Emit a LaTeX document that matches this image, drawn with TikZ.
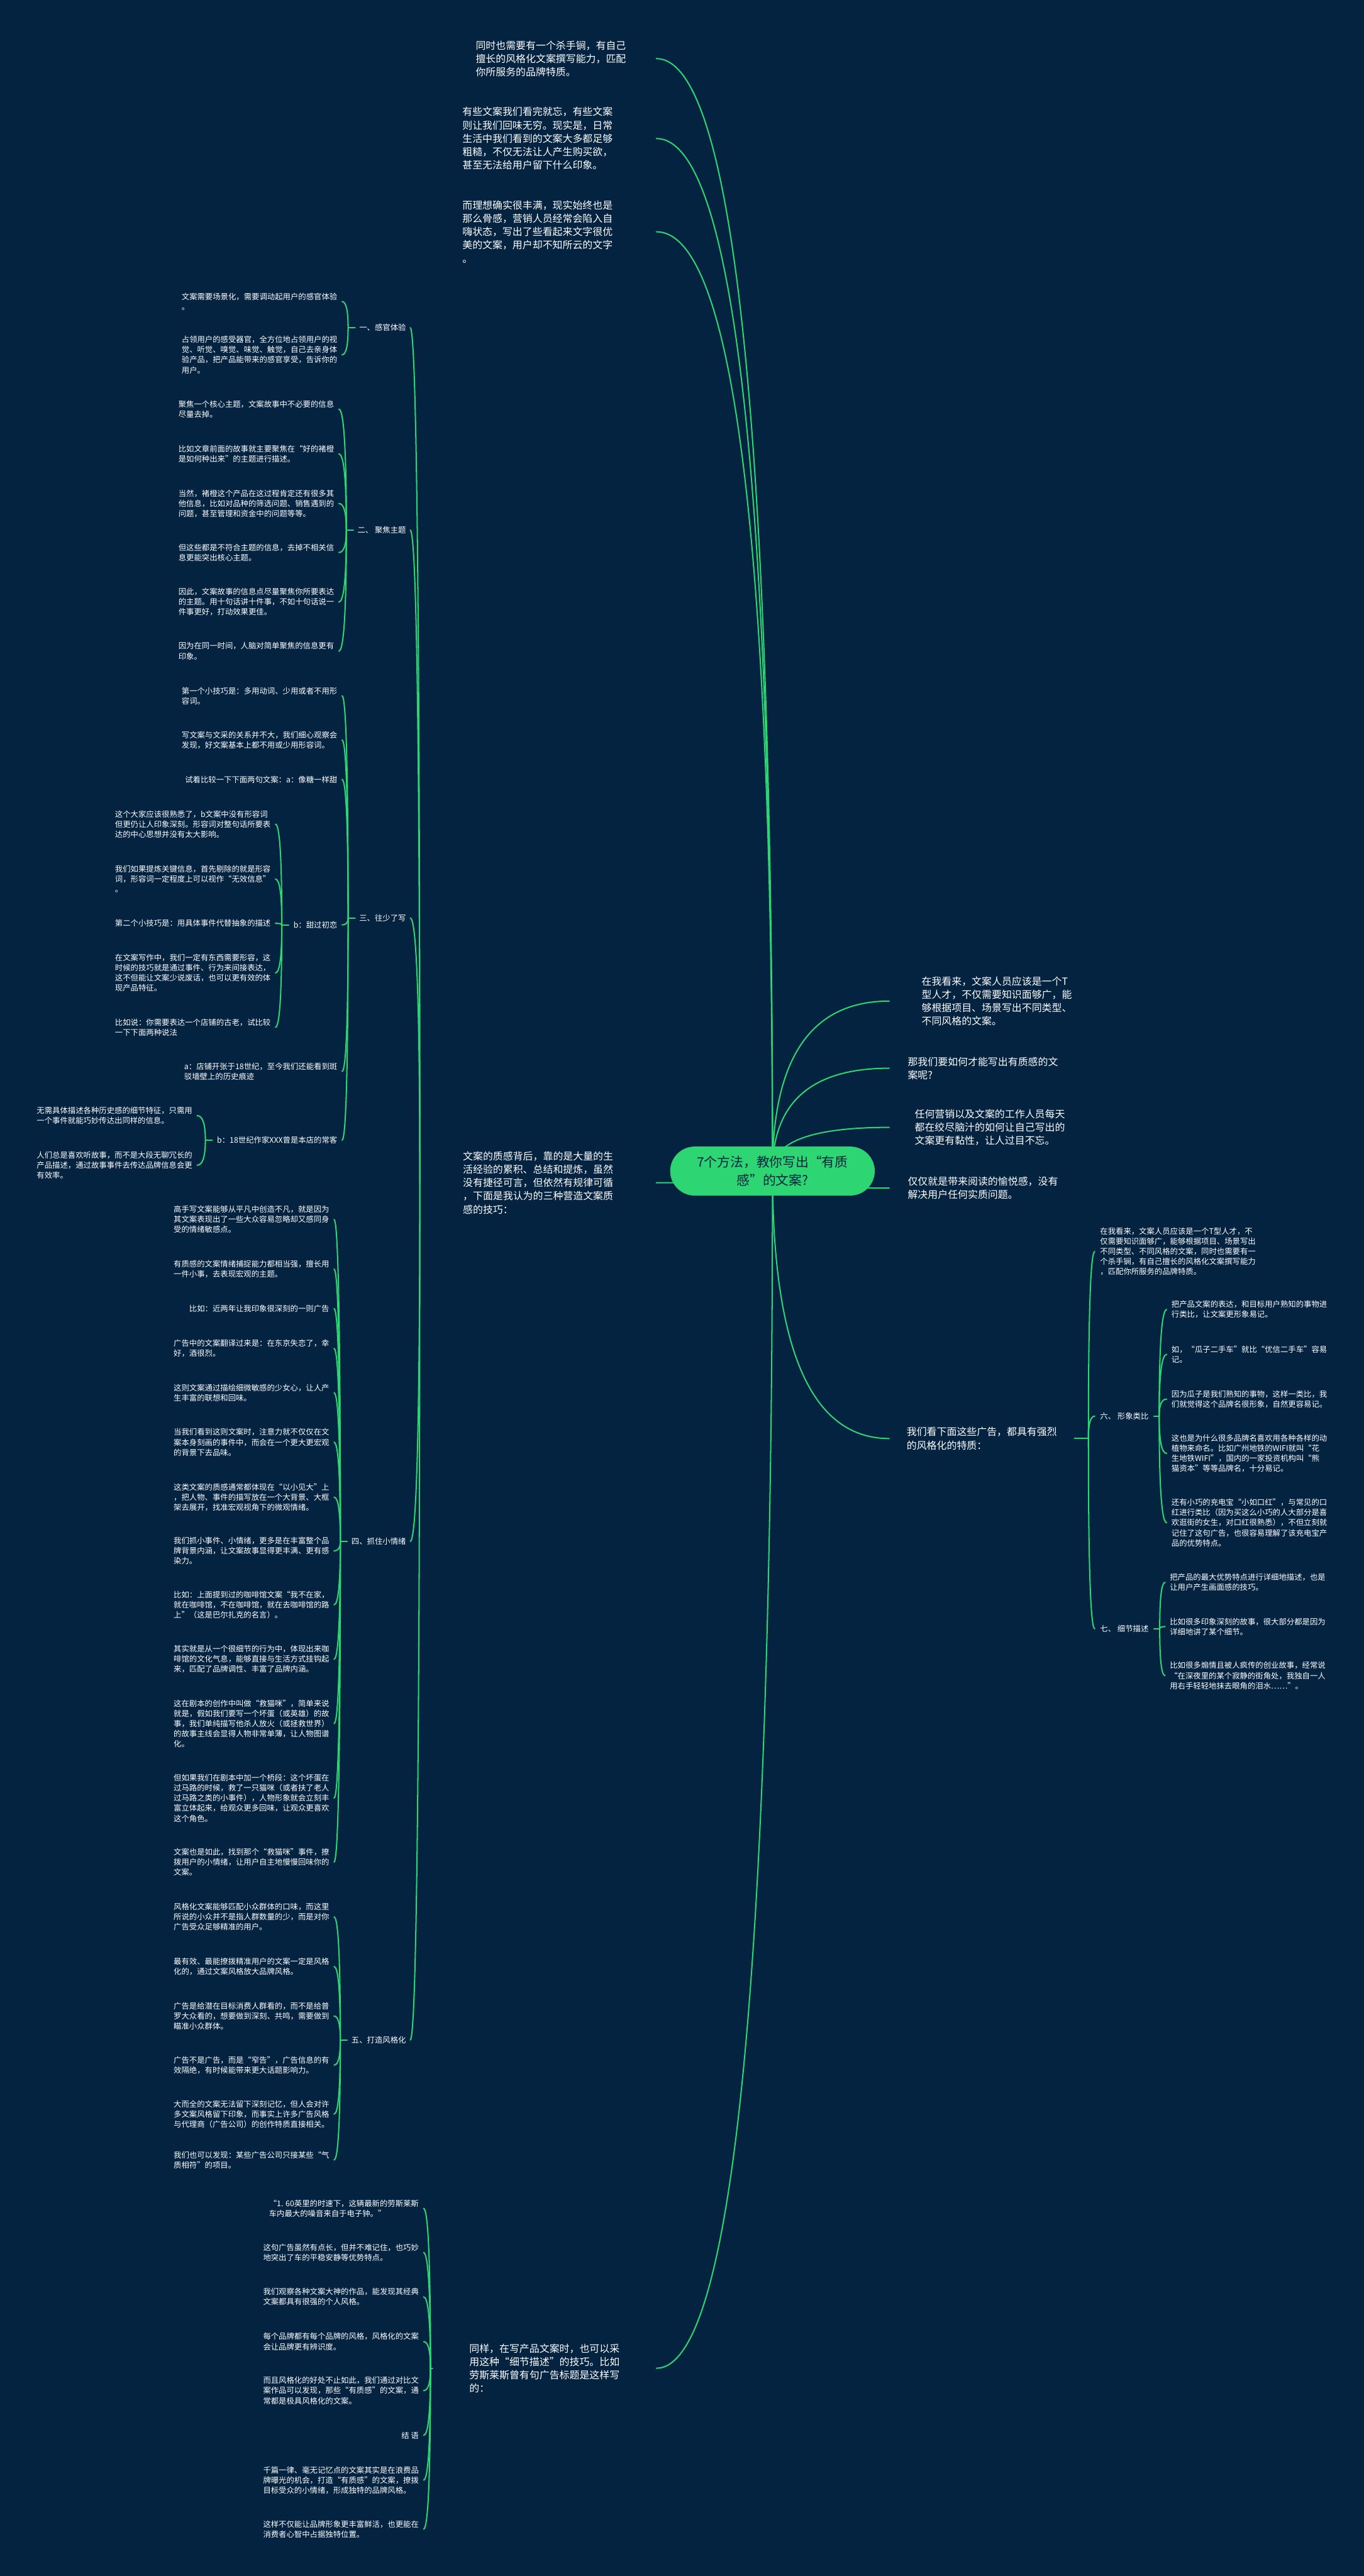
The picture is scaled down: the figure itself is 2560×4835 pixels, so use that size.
\documentclass[tikz,border=0pt]{standalone}
\usepackage{fontspec}
\setmainfont{Noto Sans CJK SC}
\usetikzlibrary{calc}
\definecolor{bgnavy}{RGB}{3,35,64}
\definecolor{lgreen}{RGB}{46,213,115}
\definecolor{roottext}{RGB}{3,35,64}
\pgfdeclarelayer{bg}
\pgfsetlayers{bg,main}
\tikzset{
  mfont/.style={font={\fontsize{18.8}{25}\selectfont}},
  sfont/.style={font={\fontsize{14.6}{19}\selectfont}},
  mainL/.style={mfont, anchor=east, align=left, text=white, inner ysep=2pt, outer sep=0pt},
  mainR/.style={mfont, anchor=west, align=left, text=white, inner ysep=2pt, outer sep=0pt},
  subL/.style={sfont, anchor=east, align=left, text=white, inner xsep=9pt, inner ysep=2pt, outer sep=0pt},
  subR/.style={sfont, anchor=west, align=left, text=white, inner xsep=9pt, inner ysep=2pt, outer sep=0pt},
  secL/.style={sfont, anchor=east, align=left, text=white, inner xsep=8pt, inner ysep=2pt, outer sep=0pt},
  secR/.style={sfont, anchor=west, align=left, text=white, inner xsep=10pt, inner ysep=2pt, outer sep=0pt},
  rootnode/.style={font={\fontsize{24.5}{35}\selectfont}, align=center, text=roottext, fill=lgreen,
    rounded corners=46pt, minimum width=384pt, minimum height=92pt, inner sep=0pt},
  conn/.style={draw=lgreen, line width=2.4pt, line cap=round},
  qc/.style={to path={.. controls ($(\tikztostart)!0.6667!(\tikztostart|-\tikztotarget)$) and ($(\tikztotarget)!0.6667!(\tikztostart|-\tikztotarget)$) .. (\tikztotarget)}},
}
\begin{document}
\begin{tikzpicture}[x=1pt,y=-1pt]
\useasboundingbox (0,0) rectangle (2560,4835);

% root
\node[rootnode] (root) at (1450,2198) {7个方法，教你写出“有质\\感”的文案?};

% main left
\node[mainL, inner xsep=57pt] (l1) at (1232,110) {同时也需要有一个杀手锏，有自己\\擅长的风格化文案撰写能力，匹配\\你所服务的品牌特质。};
\node[mainL, inner xsep=82pt] (l2) at (1232,260) {有些文案我们看完就忘，有些文案\\则让我们回味无穷。现实是，日常\\生活中我们看到的文案大多都足够\\粗糙，不仅无法让人产生购买欲，\\甚至无法给用户留下什么印象。};
\node[mainL, inner xsep=82pt] (l3) at (1232,435) {而理想确实很丰满，现实始终也是\\那么骨感，营销人员经常会陷入自\\嗨状态，写出了些看起来文字很优\\美的文案，用户却不知所云的文字\\。};
\node[mainL, inner xsep=81pt] (l4) at (1232,2220) {文案的质感背后，靠的是大量的生\\活经验的累积、总结和提炼，虽然\\没有捷径可言，但依然有规律可循\\，下面是我认为的三种营造文案质\\感的技巧：};
\node[mainL, inner xsep=69pt] (l5) at (1232,4445) {同样，在写产品文案时，也可以采\\用这种“细节描述”的技巧。比如\\劳斯莱斯曾有句广告标题是这样写\\的：};

% main right
\node[mainR, inner xsep=61pt] (r1) at (1669,1879) {在我看来，文案人员应该是一个T\\型人才，不仅需要知识面够广，能\\够根据项目、场景写出不同类型、\\不同风格的文案。};
\node[mainR, inner xsep=35pt] (r2) at (1669,2005) {那我们要如何才能写出有质感的文\\案呢?};
\node[mainR, inner xsep=48pt] (r3) at (1669,2116) {任何营销以及文案的工作人员每天\\都在绞尽脑汁的如何让自己写出的\\文案更有黏性，让人过目不忘。};
\node[mainR, inner xsep=35pt] (r4) at (1669,2230) {仅仅就是带来阅读的愉悦感，没有\\解决用户任何实质问题。};
\node[mainR, inner xsep=33pt] (r5) at (1669,2700) {我们看下面这些广告，都具有强烈\\的风格化的特质：};

% sections
\node[secL] (s1) at (770,615) {一、感官体验};
\node[secL] (s2) at (770,995) {二、 聚焦主题};
\node[secL] (s3) at (770,1723) {三、往少了写};
\node[secL] (s4) at (770,2893) {四、抓住小情绪};
\node[secL] (s5) at (770,3829) {五、打造风格化};

% section 1 children
\node[subL] (a1) at (642,566) {文案需要场景化，需要调动起用户的感官体验\\。};
\node[subL] (a2) at (642,666) {占领用户的感受器官，全方位地占领用户的视\\觉、听觉、嗅觉、味觉、触觉，自己去亲身体\\验产品，把产品能带来的感官享受，告诉你的\\用户。};

% section 2 children
\node[subL] (b1) at (636,768) {聚焦一个核心主题，文案故事中不必要的信息\\尽量去掉。};
\node[subL] (b2) at (636,852) {比如文章前面的故事就主要聚焦在“好的褚橙\\是如何种出来”的主题进行描述。};
\node[subL] (b3) at (636,945) {当然，褚橙这个产品在这过程肯定还有很多其\\他信息，比如对品种的筛选问题、销售遇到的\\问题，甚至管理和资金中的问题等等。};
\node[subL] (b4) at (636,1037) {但这些都是不符合主题的信息，去掉不相关信\\息更能突出核心主题。};
\node[subL] (b5) at (636,1130) {因此，文案故事的信息点尽量聚焦你所要表达\\的主题。用十句话讲十件事，不如十句话说一\\件事更好，打动效果更佳。};
\node[subL] (b6) at (636,1222) {因为在同一时间，人脑对简单聚焦的信息更有\\印象。};

% section 3 children
\node[subL] (c1) at (642,1306) {第一个小技巧是：多用动词、少用或者不用形\\容词。};
\node[subL] (c2) at (642,1389) {写文案与文采的关系并不大，我们细心观察会\\发现，好文案基本上都不用或少用形容词。};
\node[subL] (c3) at (642,1463) {试着比较一下下面两句文案：a：像糖一样甜};
\node[subL] (c4) at (642,1736) {b：甜过初恋};
\node[subL] (c5) at (642,2011) {a：店铺开张于18世纪，至今我们还能看到斑\\驳墙壁上的历史痕迹};
\node[subL] (c6) at (642,2140) {b：18世纪作家XXX曾是本店的常客};

\node[subL] (c4a) at (517,1547) {这个大家应该很熟悉了，b文案中没有形容词\\但更仍让人印象深刻。形容词对整句话所要表\\达的中心思想并没有太大影响。};
\node[subL] (c4b) at (517,1650) {我们如果提炼关键信息，首先剔除的就是形容\\词，形容词一定程度上可以视作“无效信息”\\。};
\node[subL] (c4c) at (517,1733) {第二个小技巧是：用具体事件代替抽象的描述};
\node[subL] (c4d) at (517,1826) {在文案写作中，我们一定有东西需要形容，这\\时候的技巧就是通过事件、行为来间接表达，\\这不但能让文案少说废话，也可以更有效的体\\现产品特征。};
\node[subL] (c4e) at (517,1928) {比如说：你需要表达一个店铺的古老，试比较\\一下下面两种说法};

\node[subL] (c6a) at (370,2094) {无需具体描述各种历史感的细节特征，只需用\\一个事件就能巧妙传达出同样的信息。};
\node[subL] (c6b) at (370,2187) {人们总是喜欢听故事，而不是大段无聊冗长的\\产品描述，通过故事事件去传达品牌信息会更\\有效率。};

% section 4 children
\node[subL] (d1) at (627,2289) {高手写文案能够从平凡中创造不凡，就是因为\\其文案表现出了一些大众容易忽略却又感同身\\受的情绪敏感点。};
\node[subL] (d2) at (627,2382) {有质感的文案情绪捕捉能力都相当强，擅长用\\一件小事，去表现宏观的主题。};
\node[subL] (d3) at (627,2456) {比如：近两年让我印象很深刻的一则广告};
\node[subL] (d4) at (627,2531) {广告中的文案翻译过来是：在东京失恋了，幸\\好，酒很烈。};
\node[subL] (d5) at (627,2614) {这则文案通过描绘细微敏感的少女心，让人产\\生丰富的联想和回味。};
\node[subL] (d6) at (627,2707) {当我们看到这则文案时，注意力就不仅仅在文\\案本身刻画的事件中，而会在一个更大更宏观\\的背景下去品味。};
\node[subL] (d7) at (627,2810) {这类文案的质感通常都体现在“以小见大”上\\，把人物、事件的描写放在一个大背景、大框\\架去展开，找准宏观视角下的微观情绪。};
\node[subL] (d8) at (627,2911) {我们抓小事件、小情绪，更多是在丰富整个品\\牌背景内涵，让文案故事显得更丰满、更有感\\染力。};
\node[subL] (d9) at (627,3012) {比如：上面提到过的咖啡馆文案“我不在家，\\就在咖啡馆，不在咖啡馆，就在去咖啡馆的路\\上”（这是巴尔扎克的名言）。};
\node[subL] (d10) at (627,3114) {其实就是从一个很细节的行为中，体现出来咖\\啡馆的文化气息，能够直接与生活方式挂钩起\\来，匹配了品牌调性、丰富了品牌内涵。};
\node[subL] (d11) at (627,3235) {这在剧本的创作中叫做“救猫咪”，简单来说\\就是，假如我们要写一个坏蛋（或英雄）的故\\事，我们单纯描写他杀人放火（或拯救世界）\\的故事主线会显得人物非常单薄，让人物图谱\\化。};
\node[subL] (d12) at (627,3375) {但如果我们在剧本中加一个桥段：这个坏蛋在\\过马路的时候，救了一只猫咪（或者扶了老人\\过马路之类的小事件），人物形象就会立刻丰\\富立体起来，给观众更多回味，让观众更喜欢\\这个角色。};
\node[subL] (d13) at (627,3495) {文案也是如此，找到那个“救猫咪”事件，撩\\拨用户的小情绪，让用户自主地慢慢回味你的\\文案。};

% section 5 children
\node[subL] (e1) at (627,3598) {风格化文案能够匹配小众群体的口味，而这里\\所说的小众并不是指人群数量的少，而是对你\\广告受众足够精准的用户。};
\node[subL] (e2) at (627,3691) {最有效、最能撩拨精准用户的文案一定是风格\\化的，通过文案风格放大品牌风格。};
\node[subL] (e3) at (627,3784) {广告是给潜在目标消费人群看的，而不是给普\\罗大众看的，想要做到深刻、共鸣，需要做到\\瞄准小众群体。};
\node[subL] (e4) at (627,3876) {广告不是广告，而是“窄告”，广告信息的有\\效隔绝，有时候能带来更大话题影响力。};
\node[subL] (e5) at (627,3968) {大而全的文案无法留下深刻记忆，但人会对许\\多文案风格留下印象，而事实上许多广告风格\\与代理商（广告公司）的创作特质直接相关。};
\node[subL] (e6) at (627,4054) {我们也可以发现：某些广告公司只接某些“气\\质相符”的项目。};

% bottom children
\node[subL] (f1) at (795,4145) {“1. 60英里的时速下，这辆最新的劳斯莱斯\\车内最大的噪音来自于电子钟。”};
\node[subL] (f2) at (795,4228) {这句广告虽然有点长，但并不难记住，也巧妙\\地突出了车的平稳安静等优势特点。};
\node[subL] (f3) at (795,4311) {我们观察各种文案大神的作品，能发现其经典\\文案都具有很强的个人风格。};
\node[subL] (f4) at (795,4395) {每个品牌都有每个品牌的风格，风格化的文案\\会让品牌更有辨识度。};
\node[subL] (f5) at (795,4487) {而且风格化的好处不止如此，我们通过对比文\\案作品可以发现，那些“有质感”的文案，通\\常都是极具风格化的文案。};
\node[subL] (f6) at (795,4571) {结 语};
\node[subL] (f7) at (795,4655) {千篇一律、毫无记忆点的文案其实是在浪费品\\牌曝光的机会，打造“有质感”的文案，撩拨\\目标受众的小情绪，形成独特的品牌风格。};
\node[subL] (f8) at (795,4747) {这样不仅能让品牌形象更丰富鲜活，也更能在\\消费者心智中占据独特位置。};

% right side sub-tree
\node[secR] (g0) at (2055,2349) {在我看来，文案人员应该是一个T型人才，不\\仅需要知识面够广，能够根据项目、场景写出\\不同类型、不同风格的文案，同时也需要有一\\个杀手锏，有自己擅长的风格化文案撰写能力\\，匹配你所服务的品牌特质。};
\node[secR] (s6) at (2055,2658) {六、 形象类比};
\node[secR] (s7) at (2055,3057) {七、 细节描述};

\node[subR] (g1) at (2190,2458) {把产品文案的表达，和目标用户熟知的事物进\\行类比，让文案更形象易记。};
\node[subR] (g2) at (2190,2542) {如，“瓜子二手车”就比“优信二手车”容易\\记。};
\node[subR] (g3) at (2190,2626) {因为瓜子是我们熟知的事物，这样一类比，我\\们就觉得这个品牌名很形象，自然更容易记。};
\node[subR] (g4) at (2190,2728) {这也是为什么很多品牌名喜欢用各种各样的动\\植物来命名。比如广州地铁的WIFI就叫“花\\生地铁WIFI”，国内的一家投资机构叫“熊\\猫资本”等等品牌名，十分易记。};
\node[subR] (g5) at (2190,2858) {还有小巧的充电宝“小如口红”，与常见的口\\红进行类比（因为买这么小巧的人大部分是喜\\欢逛街的女生，对口红很熟悉），不但立刻就\\记住了这句广告，也很容易理解了该充电宝产\\品的优势特点。};

\node[subR] (h1) at (2187,2970) {把产品的最大优势特点进行详细地描述，也是\\让用户产生画面感的技巧。};
\node[subR] (h2) at (2187,3053) {比如很多印象深刻的故事，很大部分都是因为\\详细地讲了某个细节。};
\node[subR] (h3) at (2187,3145) {比如很多煽情且被人疯传的创业故事，经常说\\“在深夜里的某个寂静的街角处，我独自一人\\用右手轻轻地抹去眼角的泪水……”。};

% junction points
\coordinate (ps1) at ([xshift=-13pt]s1.west);
\coordinate (ps2) at ([xshift=-13pt]s2.west);
\coordinate (ps3) at ([xshift=-13pt]s3.west);
\coordinate (ps4) at ([xshift=-13pt]s4.west);
\coordinate (ps5) at ([xshift=-13pt]s5.west);
\coordinate (pc4) at ([xshift=-13pt]c4.west);
\coordinate (pc6) at ([xshift=-13pt]c6.west);
\coordinate (pl5) at ([xshift=-4pt]l5.west);
\coordinate (pr5) at ([xshift=26pt]r5.east);
\coordinate (ps6) at ([xshift=10pt]s6.east);
\coordinate (ps7) at ([xshift=11pt]s7.east);

\begin{pgfonlayer}{bg}
\fill[bgnavy] (0,0) rectangle (2560,4835);
\foreach \t in {l1,l2,l3,l4,l5} \draw[conn] (root.center) to[qc] (\t.east);
\foreach \t in {r1,r2,r3,r4,r5} \draw[conn] (root.center) to[qc] (\t.west);
\foreach \t in {s1,s2,s3,s4,s5} \draw[conn] (l4.west) to[qc] (\t.east);
\foreach \s in {s1,s2,s3,s4,s5,c4,c6} \draw[conn] (\s.west) -- (p\s);
\draw[conn] (l5.west) -- (pl5);
\draw[conn] (r5.east) -- (pr5);
\draw[conn] (s6.east) -- (ps6);
\draw[conn] (s7.east) -- (ps7);
\foreach \t in {a1,a2} \draw[conn] (ps1) to[qc] (\t.east);
\foreach \t in {b1,b2,b3,b4,b5,b6} \draw[conn] (ps2) to[qc] (\t.east);
\foreach \t in {c1,c2,c3,c4,c5,c6} \draw[conn] (ps3) to[qc] (\t.east);
\foreach \t in {c4a,c4b,c4c,c4d,c4e} \draw[conn] (pc4) to[qc] (\t.east);
\foreach \t in {c6a,c6b} \draw[conn] (pc6) to[qc] (\t.east);
\foreach \t in {d1,d2,d3,d4,d5,d6,d7,d8,d9,d10,d11,d12,d13} \draw[conn] (ps4) to[qc] (\t.east);
\foreach \t in {e1,e2,e3,e4,e5,e6} \draw[conn] (ps5) to[qc] (\t.east);
\foreach \t in {f1,f2,f3,f4,f5,f6,f7,f8} \draw[conn] (pl5) to[qc] (\t.east);
\foreach \t in {g0,s6,s7} \draw[conn] (pr5) to[qc] (\t.west);
\foreach \t in {g1,g2,g3,g4,g5} \draw[conn] (ps6) to[qc] (\t.west);
\foreach \t in {h1,h2,h3} \draw[conn] (ps7) to[qc] (\t.west);
\end{pgfonlayer}
\end{tikzpicture}
\end{document}
